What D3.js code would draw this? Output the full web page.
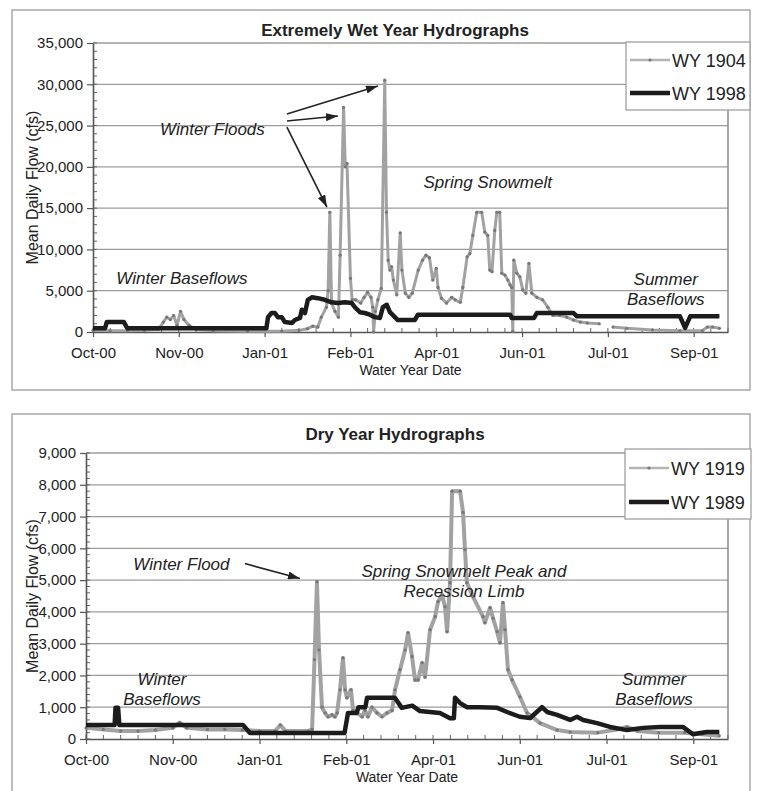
<!DOCTYPE html>
<html>
<head>
<meta charset="utf-8">
<script src="https://cdn.jsdelivr.net/npm/d3@7"></script>
<style>
  body { margin: 0; background: #fff; }
  text { font-family: "Liberation Sans", Arial, sans-serif; fill: #222; }
</style>
</head>
<body>
<script>
// days counted from Oct 1 of the water year
var tickDays = [0, 50, 100, 150, 200, 250, 300, 350];
var tickLabels = ["Oct-00", "Nov-00", "Jan-01", "Feb-01", "Apr-01", "Jun-01", "Jul-01", "Sep-01"];

var wetTicks = [0, 5000, 10000, 15000, 20000, 25000, 30000, 35000];
var dryTicks = [0, 1000, 2000, 3000, 4000, 5000, 6000, 7000, 8000, 9000];

// [day, mean daily flow cfs], null = missing record
var wy1904 = [[0,200],[10,150],[20,150],[30,200],[38,300],[41,1200],[43,1800],[45,1500],[47,2000],[49,800],[51,2500],[53,1500],[56,800],[60,300],[70,150],[90,100],[110,100],[120,200],[125,400],[128,700],[131,600],[133,1800],[136,3000],[137,5000],[138,14500],[139,3500],[141,2500],[143,1800],[144,9300],[146,27200],[147,20000],[148,20400],[150,6500],[151,3900],[153,3900],[156,3500],[158,4200],[160,4800],[162,4200],[163,3000],[163.5,0],[164.5,2500],[166,3900],[168,5300],[170,30500],[171,14500],[172,8700],[173,7500],[174,7900],[175,6300],[177,4500],[179,12000],[180,7500],[182,4700],[184,4200],[186,4700],[189.5,7500],[192,8700],[194,9300],[196,9000],[198,6300],[200,7700],[201,5400],[203,4100],[206,3500],[209,4200],[211,3900],[214,3600],[215.5,5400],[218,9100],[219.6,9500],[221.3,11700],[223.6,14500],[226.5,14500],[228.3,12100],[230,11700],[231.2,7500],[232.5,7300],[234.1,12300],[235.3,14500],[237,14500],[238.2,7100],[240,6900],[241.7,6300],[243,5700],[244,5400],[244.6,100],[245.2,8700],[247,7100],[248.7,6700],[250.4,5100],[252.2,4700],[254,8300],[255.7,4700],[258.6,4200],[262,3900],[265,3000],[268,2000],[272,2000],[276,1800],[280,1450],[284,1200],[288,1100],[295,1000],null,[303,600],[311,450],[326,250],[342,150],[355,150],[358,600],[361,600],[365,450]];

var wy1998 = [[0,450],[7,450],[8,1200],[18,1200],[20,450],[101,450],[102,1800],[104,2300],[106,2300],[107.7,1800],[110,1800],[111.8,1200],[116,1100],[117.6,1450],[120.6,1700],[121.7,2700],[123.5,2300],[125.2,3900],[127.5,4200],[131,4100],[135,3900],[139,3600],[142.7,3500],[146.8,3600],[150.8,3500],[152.6,3000],[155.5,2400],[158.4,2300],[161.3,2100],[164.2,1800],[167.2,1700],[168.9,3000],[171.2,3300],[173,2400],[175.9,1800],[177.6,1450],[187.5,1450],[189.3,2100],[243,2100],[244,1700],[257,1700],[258.6,2300],[280,2300],[282,1900],[342,1900],[345,500],[348,1900],[365,1900]];

var wy1919 = [[0,350],[10,300],[20,250],[30,250],[40,280],[50,350],[54,520],[58,350],[70,300],[80,300],[90,280],[100,250],[109,250],[112,440],[115,250],[128,250],[130.3,300],[131.7,2500],[133.1,4950],[134.3,2800],[136,1000],[137.8,820],[139.5,700],[141.8,760],[143.5,700],[144.7,820],[146.4,1550],[148.1,2550],[149.3,1550],[150.4,1300],[152.7,1550],[153.9,900],[156.2,820],[159.1,700],[160.8,900],[162.5,700],[164.8,1000],[167.7,820],[170.6,700],[173.5,820],[176.4,900],[178.1,1550],[181,2180],[183.9,2800],[185.6,3340],[187.9,2600],[189.6,1860],[191.4,1860],[193.7,2400],[195.4,1950],[198.3,3440],[201.2,3850],[202.9,4320],[205.2,4540],[206.9,4160],[208.1,3380],[209.8,4920],[211,7800],[215.6,7800],[217.3,7130],[218.4,5960],[219.5,4920],[223,4480],[228.8,3850],[229.9,3660],[232.9,4130],[234.6,3800],[236.9,3380],[238.6,3030],[240.3,4290],[241.5,3440],[243.2,2180],[245.5,1860],[250.1,1330],[254.2,820],[261.7,500],[271.5,280],[279,220],[295,200],[306,300],[311.8,380],[318,250],[330,200],[345,200],[355,150],[365,100]];

var wy1989 = [[0,440],[16.5,440],[17,980],[18.5,980],[19.2,440],[90.5,440],[94.5,190],[149,190],[151,820],[156,820],[157,1000],[161,1000],[162,1300],[178,1300],[182,980],[188,1050],[192.5,880],[198,850],[204,820],[209.8,650],[212,650],[212.7,1300],[215.6,1130],[219.6,1000],[227,1000],[237,980],[242.7,850],[250,700],[256,660],[262.8,1000],[265.7,850],[271.5,760],[279,600],[283,700],[286.5,600],[294.5,500],[302,380],[311.8,280],[321,350],[330.8,380],[344,380],[349.8,150],[354,190],[358,220],[365,220]];

// annotation text anchored in data units [day, cfs]
var wetNotes = [
  {lines: ["Winter Floods"], at: [69.6, 23850]},
  {lines: ["Spring Snowmelt"], at: [230, 17430]},
  {lines: ["Winter Baseflows"], at: [51.8, 5810]},
  {lines: ["Summer", "Baseflows"], at: [333.7, 5690]}
];
var wetArrows = [
  {from: [113, 26390], to: [166, 29780]},
  {from: [113, 25550], to: [142.7, 26150]},
  {from: [113, 24820], to: [136.3, 15130]}
];
var dryNotes = [
  {lines: ["Winter Flood"], at: [55, 5330]},
  {lines: ["Spring Snowmelt Peak and", "Recession Limb"], at: [217.8, 5110]},
  {lines: ["Winter", "Baseflows"], at: [43.8, 1700]},
  {lines: ["Summer", "Baseflows"], at: [327.4, 1700]}
];
var dryArrows = [
  {from: [91.6, 5520], to: [123.3, 5050]}
];

var svg = d3.select("body").append("svg")
    .attr("width", 758)
    .attr("height", 791);

svg.append("defs").append("marker")
    .attr("id", "head")
    .attr("viewBox", "0 0 12 8")
    .attr("refX", 12)
    .attr("refY", 4)
    .attr("markerWidth", 12)
    .attr("markerHeight", 8)
    .attr("markerUnits", "userSpaceOnUse")
    .attr("orient", "auto")
  .append("path")
    .attr("d", "M0,0L12,4L0,8Z")
    .attr("fill", "#222");

function drawPanel(c) {
  var g = svg.append("g");

  g.append("rect")
      .attr("x", c.frame[0]).attr("y", c.frame[1])
      .attr("width", c.frame[2]).attr("height", c.frame[3])
      .attr("fill", "#fff")
      .attr("stroke", "#a8a8a8")
      .attr("stroke-width", 1.5);

  var x = d3.scaleLinear().domain([0, 370]).range([c.left, c.right]);
  var y = d3.scaleLinear().domain([0, c.yMax]).range([c.bottom, c.top]);

  // gridlines + top border
  g.selectAll(".grid")
    .data(c.yTicks.filter(function(d) { return d > 0; }))
    .enter().append("line")
      .attr("x1", c.left).attr("x2", c.right)
      .attr("y1", function(d) { return y(d); })
      .attr("y2", function(d) { return y(d); })
      .attr("stroke", "#9c9c9c")
      .attr("stroke-width", 1.3);

  g.append("line")
      .attr("x1", c.right).attr("x2", c.right)
      .attr("y1", c.top).attr("y2", c.bottom)
      .attr("stroke", "#888")
      .attr("stroke-width", 1.5);

  // minor ticks, drawn inside the plot
  g.selectAll(".ym")
    .data(d3.range(0, c.yMax + 1, c.yMinor))
    .enter().append("line")
      .attr("x1", c.left).attr("x2", c.left + 4)
      .attr("y1", function(d) { return y(d); })
      .attr("y2", function(d) { return y(d); })
      .attr("stroke", "#666");
  g.selectAll(".xm")
    .data(d3.range(0, 371, 10))
    .enter().append("line")
      .attr("x1", function(d) { return x(d); })
      .attr("x2", function(d) { return x(d); })
      .attr("y1", c.bottom).attr("y2", c.bottom - 4)
      .attr("stroke", "#666");

  var yAxis = g.append("g")
      .attr("transform", "translate(" + c.left + ",0)")
      .call(d3.axisLeft(y).tickValues(c.yTicks).tickFormat(d3.format(","))
            .tickSize(6).tickSizeOuter(0).tickPadding(4));
  var xAxis = g.append("g")
      .attr("transform", "translate(0," + c.bottom + ")")
      .call(d3.axisBottom(x).tickValues(tickDays)
            .tickFormat(function(d, i) { return tickLabels[i]; })
            .tickSize(5).tickSizeOuter(0).tickPadding(10));
  [yAxis, xAxis].forEach(function(a) {
    a.select(".domain").attr("stroke", "#555").attr("stroke-width", 1.6);
    a.selectAll(".tick line").attr("stroke", "#555").attr("stroke-width", 1.2);
    a.selectAll("text").attr("font-size", "15px").attr("fill", "#222")
      .attr("font-family", "Liberation Sans, Arial, sans-serif");
  });

  // series
  var line = d3.line()
      .defined(function(d) { return d !== null; })
      .x(function(d) { return x(d[0]); })
      .y(function(d) { return y(d[1]); });

  var gray = c.series[0], black = c.series[1];
  g.append("path")
      .attr("d", line(gray.data))
      .attr("fill", "none")
      .attr("stroke", "#a2a2a2")
      .attr("stroke-width", c.grayWidth)
      .attr("stroke-linejoin", "round");
  g.selectAll(".dot")
    .data(gray.data.filter(function(d) { return d !== null; }))
    .enter().append("circle")
      .attr("cx", function(d) { return x(d[0]); })
      .attr("cy", function(d) { return y(d[1]); })
      .attr("r", 1.6)
      .attr("fill", "#777");
  g.append("path")
      .attr("d", line(black.data))
      .attr("fill", "none")
      .attr("stroke", "#1c1c1c")
      .attr("stroke-width", 4.5)
      .attr("stroke-linejoin", "round");

  // titles
  g.append("text")
      .text(c.title)
      .attr("x", 395).attr("y", c.titleY)
      .attr("text-anchor", "middle")
      .attr("font-weight", "bold")
      .attr("font-size", "17px");
  g.append("text")
      .text("Mean Daily Flow (cfs)")
      .attr("text-anchor", "middle")
      .attr("font-size", "16px")
      .attr("transform", "translate(38," + (c.top + c.bottom) / 2 + ") rotate(-90)");
  g.append("text")
      .text("Water Year Date")
      .attr("text-anchor", "middle")
      .attr("font-size", "14px")
      .attr("x", (c.left + c.right) / 2)
      .attr("y", c.bottom + 43);

  // annotations
  c.notes.forEach(function(n) {
    n.lines.forEach(function(t, i) {
      g.append("text")
          .text(t)
          .attr("x", x(n.at[0]))
          .attr("y", y(n.at[1]) + i * 20)
          .attr("text-anchor", "middle")
          .attr("font-style", "italic")
          .attr("font-size", "17px");
    });
  });
  c.arrows.forEach(function(a) {
    g.append("line")
        .attr("x1", x(a.from[0])).attr("y1", y(a.from[1]))
        .attr("x2", x(a.to[0])).attr("y2", y(a.to[1]))
        .attr("stroke", "#222")
        .attr("stroke-width", 1.6)
        .attr("marker-end", "url(#head)");
  });

  // legend
  var L = c.legend;
  var lg = g.append("g").attr("transform", "translate(" + L.x + "," + L.y + ")");
  lg.append("rect")
      .attr("width", L.w).attr("height", L.h)
      .attr("fill", "#fff")
      .attr("stroke", "#a0a0a0")
      .attr("stroke-width", 1.3);
  lg.append("line")
      .attr("x1", 4).attr("x2", 44).attr("y1", L.rows[0]).attr("y2", L.rows[0])
      .attr("stroke", "#b4b4b4").attr("stroke-width", 2.5);
  lg.append("circle")
      .attr("cx", 24).attr("cy", L.rows[0]).attr("r", 1.6).attr("fill", "#777");
  lg.append("line")
      .attr("x1", 4).attr("x2", 44).attr("y1", L.rows[1]).attr("y2", L.rows[1])
      .attr("stroke", "#1c1c1c").attr("stroke-width", 4.5);
  [gray.name, black.name].forEach(function(name, i) {
    lg.append("text")
        .text(name)
        .attr("x", 46)
        .attr("y", L.rows[i] + 6.5)
        .attr("font-size", "18px");
  });
}

drawPanel({
  frame: [12, 10, 738, 380],
  left: 93, right: 728, top: 43, bottom: 332,
  yMax: 35000, yTicks: wetTicks, yMinor: 1000,
  title: "Extremely Wet Year Hydrographs", titleY: 36,
  grayWidth: 3,
  series: [{name: "WY 1904", data: wy1904}, {name: "WY 1998", data: wy1998}],
  notes: wetNotes, arrows: wetArrows,
  legend: {x: 626, y: 42, w: 124, h: 68, rows: [18, 51]}
});

drawPanel({
  frame: [12, 414, 738, 392],
  left: 86, right: 728, top: 453, bottom: 739,
  yMax: 9000, yTicks: dryTicks, yMinor: 200,
  title: "Dry Year Hydrographs", titleY: 440,
  grayWidth: 4,
  series: [{name: "WY 1919", data: wy1919}, {name: "WY 1989", data: wy1989}],
  notes: dryNotes, arrows: dryArrows,
  legend: {x: 625, y: 449, w: 126, h: 70, rows: [19, 53]}
});
</script>
</body>
</html>
